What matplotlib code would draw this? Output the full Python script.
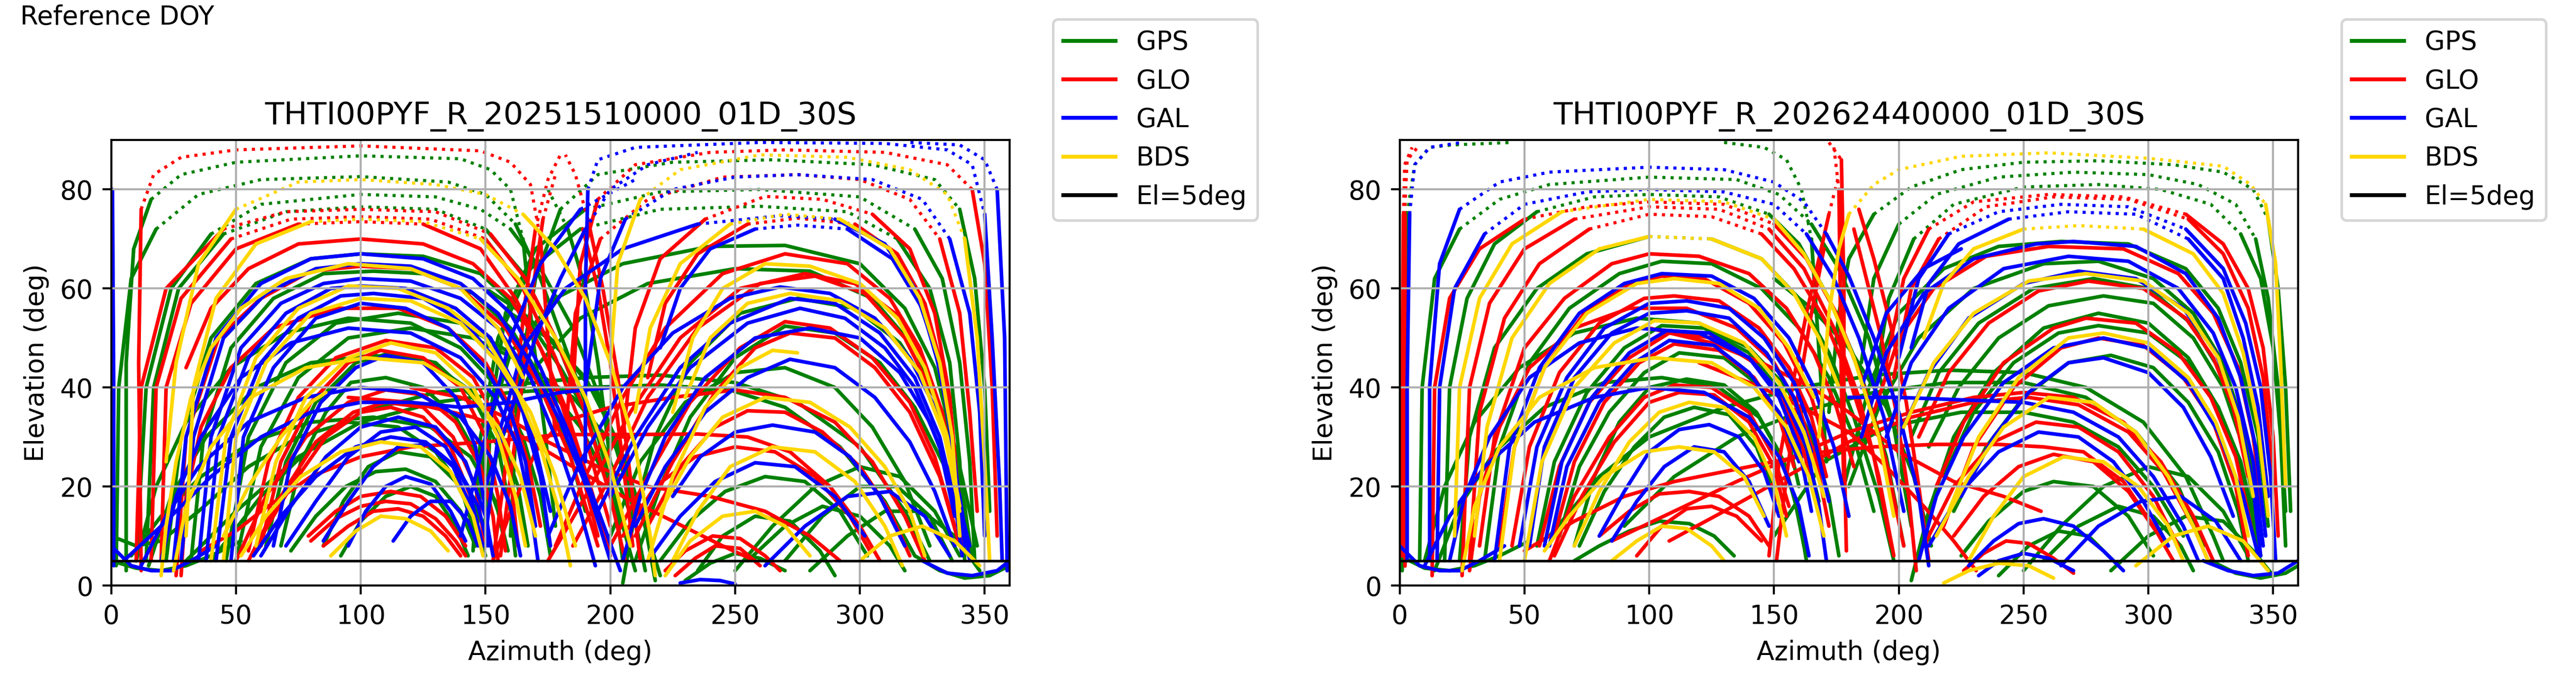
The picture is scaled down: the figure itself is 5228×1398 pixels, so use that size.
import numpy as np
import matplotlib.pyplot as plt
from matplotlib.lines import Line2D

systems = ["GPS", "GLO", "GAL", "BDS"]
sys_colors = {"GPS": "green", "GLO": "red", "GAL": "blue", "BDS": "gold"}
titles = ["THTI00PYF_R_20251510000_01D_30S", "THTI00PYF_R_20262440000_01D_30S"]
az_ticks = [0, 50, 100, 150, 200, 250, 300, 350]
el_ticks = [0, 20, 40, 60, 80]
el_mask = 5

p1_gps = [
    [(6,3),(6,45),(9,68),(16,78),(28,83),(50,85.5),(100,86.8),(140,86.2),(152,84),(160,80),(165,70),(169,50),(174,30),(178,12)],
    [(2,4),(3,40),(8,62),(18,72),(35,79),(60,82),(100,82.6),(135,81.5),(150,79),(162,73),(172,62),(182,48),(195,30),(205,12),(210,3)],
    [(10,5),(14,40),(24,60),(40,71),(60,77),(100,79),(130,78.5),(148,76),(160,72),(172,64),(185,52),(198,35),(208,18),(214,3)],
    [(14,5),(17,40),(27,60),(45,71),(70,75.5),(100,76.5),(130,76),(150,72),(165,63),(178,50),(192,32),(204,12)],
    [(22,5),(28,30),(40,50),(58,61),(80,66),(100,67),(125,66.5),(148,63),(165,55),(180,44),(196,30),(210,12)],
    [(32,5),(37,30),(48,48),(65,58),(85,63),(105,63.5),(125,63),(145,59),(160,52),(172,42),(182,30),(190,15)],
    [(46,5),(55,30),(70,45),(90,53),(115,55),(140,53),(160,47),(175,40),(188,32),(200,20),(208,8)],
    [(50,5),(60,28),(75,42),(95,50),(120,52),(145,50),(165,45),(185,38),(202,28),(215,12)],
    [(62,8),(70,25),(82,37),(98,45),(112,47),(130,45),(145,38),(155,28),(160,15),(162,6)],
    [(68,8),(76,25),(86,35),(96,41),(110,42),(125,40),(138,34),(148,25),(155,15),(158,8)],
    [(85,8),(93,17),(103,24),(115,27),(128,26),(138,21),(146,13),(150,6)],
    [(92,6),(100,13),(110,18),(120,20),(130,18),(138,12),(143,6)],
    [(40,5),(60,18),(80,28),(100,35),(130,39),(160,40.5),(190,42),(220,42.5),(250,41),(275,37),(300,28),(318,15),(328,5)],
    [(30,5),(50,15),(75,26),(100,33),(130,37),(160,39),(190,40),(220,40.5),(248,39.5),(270,36),(292,28),(310,17),(322,6)],
    [(0,5),(10,3.5),(20,3),(30,4),(40,6),(52,9)],
    [(0,10),(10,8),(20,9),(35,15),(55,24),(75,30),(95,33),(115,32),(130,27),(140,20),(146,10)],
    [(10,5),(18,20),(30,33),(48,44),(70,51),(95,54),(120,53),(140,48),(155,40),(165,30),(172,18),(176,6)],
    [(15,4),(24,18),(38,30),(58,40),(80,45),(105,46.5),(128,45),(145,39),(156,30),(163,20),(167,8)],
    [(8,6),(20,14),(36,22),(56,29),(80,33),(105,34),(128,32),(144,26),(154,17),(159,7)],
    [(72,7),(82,14),(94,20),(106,23),(118,23.5),(130,21),(140,15),(146,8)],
    [(160,10),(163,40),(170,62),(180,76),(195,83),(225,85.5),(265,86),(305,85),(330,82),(340,76),(346,62),(350,40),(352,15)],
    [(150,8),(152,35),(158,55),(170,68),(190,76),(220,79.5),(260,80),(300,78.5),(322,72),(333,62),(340,45),(344,25),(346,5)],
    [(145,7),(148,30),(155,50),(168,64),(188,72),(220,76),(260,76.6),(295,75.5),(315,70),(328,60),(336,45),(340,25),(342,5)],
    [(146,8),(150,30),(160,47),(178,58),(205,65),(240,68.5),(270,68.7),(300,65),(318,56),(330,44),(338,28),(343,12)],
    [(148,8),(155,28),(168,43),(188,54),(215,61),(250,64),(280,63.5),(305,58),(322,48),(334,34),(342,16),(345,5)],
    [(205,5),(200,25),(195,45),(190,60),(183,72),(175,80)],
    [(210,5),(220,20),(232,34),(250,46),(270,52.4),(290,51),(308,45),(322,36),(334,24),(342,10)],
    [(205,0.5),(210,15),(218,30),(232,45),(252,55),(275,58),(298,56),(316,49),(330,38),(340,24),(347,8)],
    [(200,10),(212,25),(230,37),(250,43),(270,44),(290,40),(305,32),(318,21),(328,8)],
    [(150,60),(165,55),(180,48),(195,38),(206,25),(214,12),(218,1)],
    [(160,55),(175,50),(190,42),(202,30),(212,15),(220,2)],
    [(220,5),(232,13),(246,19),(262,22),(278,21),(292,15),(303,6)],
    [(235,3),(245,10),(258,14),(272,13),(284,7),(290,2)],
    [(250,3),(265,12),(282,20),(300,24),(316,22),(330,15),(340,6)],
    [(255,5),(270,12),(285,16),(300,14),(312,8),(318,3)],
    [(270,5),(285,14),(300,20),(315,20),(328,14),(337,5)],
    [(280,3),(295,10),(310,15),(325,15),(338,10),(348,3)],
    [(230,1),(240,4.5),(250,6.5),(260,5.5),(270,3)],
    [(322,6),(332,3),(342,1.5),(352,2),(360,4)],
]

p1_glo = [
    [(12,3),(11,45),(12,76),(17,83),(28,86.5),(50,88),(100,88.8),(148,87.8),(160,85.5),(168,81),(172,70),(175,50),(178,30)],
    [(10,5),(12,40),(22,60),(45,72),(70,75.5),(100,76),(130,75.5),(152,71),(166,62),(178,50),(190,35),(200,18),(206,5)],
    [(16,5),(18,40),(28,58),(48,70),(72,74),(100,74.5),(128,74),(150,70),(165,60),(178,46),(190,30),(200,12)],
    [(20,5),(22,40),(32,57),(50,68),(75,73),(100,73.5),(125,73),(148,68),(162,58),(175,45),(186,28),(195,10)],
    [(30,44),(40,56),(55,64),(75,69),(100,70),(125,69),(145,65),(160,58),(172,48),(182,36),(192,20),(200,6)],
    [(26,2),(30,30),(43,50),(60,58),(80,63.5),(100,64.5),(120,64),(140,60),(158,52),(172,40),(184,26),(195,8)],
    [(28,2),(30,18),(36,32),(48,44),(65,52),(90,56),(115,56),(135,52),(150,45),(160,36),(167,25),(172,12)],
    [(55,7),(63,25),(75,38),(90,46),(110,49.5),(130,48),(145,42),(155,33),(160,22),(163,8)],
    [(60,8),(68,25),(80,37),(95,45),(108,47.5),(125,46),(140,40),(150,30),(155,18),(158,7)],
    [(50,5),(62,18),(78,30),(95,37),(110,39.5),(125,38.5),(138,33),(148,24),(153,14),(155,5)],
    [(55,5),(68,18),(82,29),(97,35),(110,37),(125,36),(137,30),(146,20),(150,8)],
    [(58,8),(72,20),(86,30),(100,35),(112,36),(125,34),(136,28),(144,18),(148,8)],
    [(79,10),(90,15),(100,18),(112,19),(124,18),(134,14),(142,8)],
    [(80,9),(90,13.5),(100,16),(110,17),(120,16.5),(130,13.5),(138,9),(142,6)],
    [(85,8),(95,12),(105,15),(115,15.5),(125,14),(134,10),(140,6)],
    [(153,5),(160,15),(170,27),(180,33),(200,36),(225,38),(250,39.5),(270,38),(290,33),(305,25),(318,14),(326,5)],
    [(36,7),(50,11),(60,15),(80,22),(100,26),(120,28),(150,29),(180,30.5),(210,30.5),(235,30.6),(255,30),(272,27),(288,20),(300,12),(308,5)],
    [(95,38),(120,37),(145,34),(165,30),(185,24),(205,18),(225,13),(245,8),(258,5)],
    [(120,40),(140,38),(158,34),(175,29),(195,24),(215,20),(240,18),(262,15),(280,10),(292,5)],
    [(153,5),(157,20),(162,40),(166,58),(170,72),(175,82),(180,87)],
    [(156,6),(160,22),(165,42),(169,60),(173,74),(178,83)],
    [(212,5),(208,22),(203,42),(197,60),(191,74),(186,83),(182,87)],
    [(209,8),(205,25),(200,45),(195,60),(189,72)],
    [(185,40),(188,65),(195,78),(210,85),(240,87.5),(270,88),(310,87.5),(335,85),(345,80),(350,65),(353,40),(355,10)],
    [(182,30),(186,55),(196,70),(215,78),(245,82.5),(275,83),(300,82),(320,78),(332,70),(340,55),(344,35),(347,15)],
    [(205,30),(210,52),(220,66),(238,74),(262,78.6),(285,78),(305,75),(320,68),(330,55),(336,38),(340,15)],
    [(215,42),(222,57),(235,67),(255,73),(275,74.2),(298,73),(315,67),(326,57),(334,42),(338,25),(341,8)],
    [(178,8),(190,22),(205,38),(222,52),(245,63),(270,67),(295,65),(312,58),(324,48),(333,35),(338,22),(342,8)],
    [(175,5),(190,18),(208,35),(228,50),(252,60),(278,63),(298,61),(314,55),(326,45),(334,32),(340,18)],
    [(185,8),(200,22),(215,38),(235,52),(260,61),(282,62.5),(302,59),(318,50),(330,38),(337,24),(342,10)],
    [(200,8),(215,22),(232,37),(252,48),(270,53.3),(288,52),(305,46),(320,37),(330,26),(338,12)],
    [(210,10),(225,25),(242,39),(258,48),(272,51),(290,50),(306,44),(320,35),(332,22),(340,8)],
    [(215,12),(228,24),(242,32),(255,35.3),(270,35),(285,31),(300,24),(312,15),(320,6)],
    [(205,10),(218,20),(234,26),(250,28),(266,27),(282,22),(296,14),(304,7)],
    [(222,3),(230,7),(241,10),(252,9.5),(262,6),(268,3)],
    [(226,2),(234,5.5),(242,8),(252,7.5),(260,4)],
]

p1_gal = [
    [(1,4),(1,40),(0.5,80)],
    [(359,3),(358,50),(355,80),(350,86),(340,89),(320,89.5)],
    [(25,5),(30,30),(42,50),(60,61),(80,66),(100,67),(125,66),(145,62),(160,55),(172,44),(184,30),(196,14),(204,3)],
    [(28,5),(33,30),(45,50),(62,59),(82,64),(100,65),(120,64.5),(140,61),(155,55),(168,45),(180,33),(192,18),(200,5)],
    [(35,5),(40,30),(52,48),(68,57),(85,61),(100,62),(120,61.5),(140,58),(155,52),(168,42),(178,30),(188,15),(194,4)],
    [(38,5),(43,30),(55,46),(70,55),(88,60),(100,60.5),(118,60),(138,56),(152,50),(162,40),(170,28),(176,15)],
    [(42,5),(48,30),(60,45),(75,54),(92,58.5),(105,59),(125,58),(142,53),(155,45),(165,35),(172,22),(176,8)],
    [(48,5),(53,30),(65,44),(82,54),(100,57),(118,56),(135,52),(150,44),(160,35),(166,25),(170,12)],
    [(20,5),(26,18),(36,30),(52,42),(72,49),(95,52),(120,51),(140,46),(154,38),(163,28),(168,16),(171,5)],
    [(65,8),(72,25),(84,37),(98,44),(110,46.5),(125,45),(138,38),(146,28),(150,15),(152,8)],
    [(12,4),(22,14),(35,24),(55,33),(78,38),(100,40),(122,39),(140,34),(152,26),(160,16),(164,6)],
    [(60,6),(72,16),(86,26),(100,32),(115,34),(130,32),(142,25),(150,14),(153,6)],
    [(70,8),(82,17),(95,26),(108,31),(122,32),(134,28),(143,20),(148,10)],
    [(57,6),(68,14),(82,22),(98,28),(112,30),(126,29),(138,24),(147,16),(151,8)],
    [(85,9),(95,17),(105,24),(115,28),(127,28.5),(137,24),(145,15),(149,8)],
    [(95,8),(102,15),(110,20),(118,22),(128,20.5),(136,15),(142,9)],
    [(113,9),(120,14),(128,17),(136,17),(143,13),(147,8)],
    [(0,8),(8,4),(16,3),(24,3),(32,5),(42,8)],
    [(5,5),(20,12),(40,22),(60,30),(80,35),(100,37),(120,37),(140,36),(160,37),(180,39),(200,40)],
    [(190,25),(190,60),(191,80),(195,86),(210,88.5),(260,89.5),(310,89.3),(335,88),(345,85),(350,75),(353,50),(356,20),(357,5)],
    [(190,40),(196,62),(206,74),(225,80),(250,82.5),(275,83),(305,82),(325,78),(336,70),(344,55),(348,35),(350,10)],
    [(150,10),(155,30),(165,48),(182,60),(205,68),(235,73),(268,74.7),(290,74),(310,69),(322,60),(330,48),(336,33),(340,15)],
    [(220,48),(228,60),(240,68),(258,72),(275,72.8),(295,72),(313,66),(325,56),(333,42),(338,25),(342,8)],
    [(175,10),(188,25),(205,40),(225,51),(248,58),(268,60.3),(288,59),(306,54),(320,46),(332,34),(340,18),(344,5)],
    [(195,15),(210,30),(228,44),(248,53),(272,58),(290,57),(308,51),(322,42),(332,30),(338,17),(341,6)],
    [(200,18),(215,32),(232,44),(255,53),(276,56),(294,54),(310,48),(322,40),(332,28),(338,14)],
    [(205,5),(212,18),(222,30),(238,42),(258,50),(280,52),(300,50),(316,43),(328,33),(338,20),(344,8)],
    [(210,12),(222,24),(238,35),(255,42),(272,45.7),(290,44),(306,38),(320,29),(330,19),(338,8)],
    [(225,18),(236,26),(250,31),(265,32.4),(282,31),(296,26),(308,18),(318,8)],
    [(215,5),(228,14),(242,21),(258,24.8),(274,24),(290,18),(302,10)],
    [(262,4),(278,12),(295,18),(312,19),(326,14),(336,6)],
    [(228,0.5),(236,1.2),(244,1),(250,0.3)],
    [(325,5),(335,2.5),(345,2),(355,3),(360,5)],
    [(150,20),(160,35),(170,50),(180,62),(190,72),(200,80),(215,85),(235,87.5)],
    [(140,10),(150,30),(160,50),(172,65),(188,76),(210,82)],
]

p1_bds = [
    [(22,25),(26,45),(35,65),(50,76),(75,81.5),(100,82),(130,81),(150,79),(165,75),(178,68),(190,58),(200,45),(210,28),(216,10),(218,2)],
    [(30,10),(33,40),(42,58),(58,69),(80,73.5),(100,74),(125,73.5),(148,70),(163,62),(178,50),(190,38),(200,24),(208,8)],
    [(40,5),(46,30),(58,46),(75,56),(95,60.5),(115,60),(135,56),(150,50),(162,40),(172,28),(180,14),(184,4)],
    [(45,5),(50,30),(62,45),(80,55),(100,58),(120,57.5),(140,53),(155,45),(168,35),(178,22),(186,8)],
    [(58,8),(66,25),(78,38),(95,46),(112,49),(130,47),(145,40),(155,30),(162,18),(166,8)],
    [(25,3),(30,16),(40,28),(56,38),(78,44),(102,46),(125,45),(142,40),(155,32),(164,22),(170,10)],
    [(45,10),(55,20),(68,30),(80,37),(86,39)],
    [(52,6),(62,14),(76,22),(92,27),(108,29),(124,28),(136,23),(145,14),(149,6)],
    [(88,6),(98,11),(108,14),(118,13.5),(128,11),(135,7)],
    [(20,2),(22,12),(26,25),(32,38),(40,48),(52,56),(70,62),(95,65),(120,64),(140,60),(155,52),(165,42)],
    [(200,45),(203,65),(212,78),(228,84),(260,87),(295,86.5),(320,84),(335,79),(342,70),(347,50),(350,25),(352,5)],
    [(210,35),(216,52),(228,65),(248,73),(270,75),(292,74),(312,68),(324,58),(332,45),(337,30),(340,10)],
    [(225,35),(233,50),(245,60),(262,65),(280,64.5),(300,61),(315,54),(326,44),(335,30),(340,16)],
    [(230,38),(240,50),(255,57),(272,59),(292,57.5),(310,52),(324,43),(334,30),(340,15)],
    [(215,5),(225,22),(238,36),(252,44),(265,47.5),(275,47)],
    [(220,15),(232,26),(245,34),(262,38),(280,37),(296,32),(310,24),(320,15),(326,6)],
    [(225,5),(235,15),(248,24),(265,28),(282,27),(298,21),(310,12),(317,4)],
    [(300,5),(312,10),(325,12),(338,9),(348,4)],
    [(222,2),(232,9),(245,14),(258,15),(270,12),(280,6)],
]

# ---- file 2 (2026 DOY 244) ----
p2_gps = [
    [(1,3),(1.5,40),(3,75),(6,85),(12,88.5),(21,89),(45,89.5)],
    [(130,89.5),(146,88.5),(155,86),(161,80),(165,70),(167,55),(169,40),(171,25)],
    [(8,5),(9,40),(14,62),(24,72),(40,78),(60,81),(100,82.5),(135,82),(152,79),(165,73),(176,64),(188,50),(198,32),(205,12)],
    [(18,5),(20,40),(27,58),(38,69),(55,75.5),(78,78.5),(100,79),(128,78.5),(148,75),(160,69),(172,58),(184,44),(195,26),(202,8)],
    [(24,5),(28,30),(38,48),(55,60),(75,67),(100,70.5),(125,70),(145,66),(160,58),(172,47),(182,34),(192,18),(198,5)],
    [(34,5),(40,28),(52,45),(68,56),(88,63),(105,65.5),(125,65),(145,60),(160,52),(172,42),(182,30),(190,15)],
    [(10,5),(18,20),(30,33),(48,44),(70,51),(95,54),(120,53),(140,48),(155,40),(165,30),(172,18),(176,6)],
    [(55,8),(62,25),(75,39),(90,48),(105,52.5),(122,52),(140,47),(153,39),(162,29),(168,17)],
    [(64,10),(72,24),(84,35),(98,43),(112,47),(130,46),(145,40),(155,31),(160,20)],
    [(14,3),(24,16),(38,27),(58,36),(82,41),(105,42),(128,40),(144,34),(154,25),(160,14),(163,5)],
    [(70,8),(78,22),(88,33),(100,40),(115,41.7),(130,40.5),(143,35),(152,27),(158,18),(162,8)],
    [(72,8),(82,19),(94,28),(106,34),(118,36),(132,34.5),(143,28),(150,19)],
    [(70,5),(80,8),(92,11),(104,13),(116,12.5),(126,10),(134,6)],
    [(60,10),(80,22),(100,30),(130,36),(160,40),(190,42.5),(220,43.5),(250,43),(275,40),(298,33),(315,22),(326,10),(330,5)],
    [(90,12),(110,22),(135,30),(160,35),(190,39),(220,41),(250,41),(275,38),(295,31),(312,20),(322,8)],
    [(172,35),(176,55),(180,66),(190,75),(205,80.5),(225,84),(250,85.5),(280,85.8),(310,85),(330,83.5),(342,80),(348,74),(352,60),(355,40),(357,15)],
    [(185,45),(190,62),(200,73),(215,79),(240,82.5),(270,83.5),(300,83),(320,81),(335,77),(343,70),(348,58),(352,40),(355,15)],
    [(190,40),(196,58),(206,70),(222,77),(250,80.5),(280,81),(305,80),(325,77),(337,71),(345,62),(350,48),(353,30),(355,8)],
    [(178,20),(188,40),(200,55),(218,64),(240,68.5),(265,69.5),(292,69),(315,64),(328,56),(337,45),(344,30),(348,12)],
    [(180,20),(192,36),(208,50),(230,60),(258,65),(280,65.5),(302,62),(318,55),(330,45),(338,32),(344,16)],
    [(205,30),(216,43),(232,53),(254,60),(278,62),(300,60),(317,53),(328,44),(337,32),(343,16)],
    [(212,28),(224,40),(240,50),(260,56.5),(282,58.5),(302,57),(318,50),(330,40),(338,28),(344,12)],
    [(205,1),(212,15),(222,30),(238,43),(258,52),(280,55),(300,53),(316,46),(328,36),(338,22),(345,6)],
    [(218,22),(230,35),(246,45),(264,51),(280,52.5),(300,51),(316,45),(328,36),(337,25),(344,10)],
    [(222,15),(235,28),(250,38),(268,45),(285,46.5),(302,44),(316,37),(328,27),(336,15),(340,5)],
    [(150,62),(165,56),(180,48),(195,36),(206,22),(213,8)],
    [(150,10),(170,25),(195,32),(225,35),(250,35),(270,33),(288,28),(302,20),(314,10)],
    [(225,6),(236,13),(250,19),(262,21),(278,20),(292,14),(302,6)],
    [(250,3),(265,12),(282,20),(300,24),(316,22),(330,15),(340,6)],
    [(258,5),(272,12),(288,16),(302,14),(313,8),(318,3)],
    [(285,3),(300,10),(315,14),(330,13),(342,7),(350,2)],
    [(240,2),(252,8),(264,11),(276,10),(286,5)],
    [(0,6),(10,3.5),(20,3),(30,4),(40,6),(52,9)],
    [(325,5),(335,2.5),(345,1.5),(355,2.5),(360,4)],
]

p2_glo = [
    [(2,4),(2,40),(2,75),(3,86),(8,89)],
    [(1,6),(1,40),(1.5,75),(2,85),(5,88.5)],
    [(172,89.5),(177,86),(178,60),(178,30),(179,7)],
    [(174,88.5),(176,80),(176.5,60),(177,40),(178,20)],
    [(13,2),(14,40),(20,58),(32,68),(50,74),(75,76.5),(100,77.5),(130,77),(150,73),(163,66),(175,55),(185,42),(195,25),(202,8)],
    [(25,2),(28,40),(36,57),(50,68),(70,74),(100,76.5),(128,76),(148,72),(162,64),(174,52),(184,38),(192,22),(198,6)],
    [(28,5),(32,35),(42,54),(56,65),(76,72),(100,75),(125,74.5),(145,71),(158,64),(170,54),(180,42),(190,26),(197,8)],
    [(32,8),(38,30),(50,48),(66,58),(85,65),(100,67),(120,66.5),(140,63),(155,56),(166,47),(175,36),(182,24)],
    [(40,8),(46,28),(58,44),(74,55),(92,61),(105,62.5),(122,62),(140,57),(154,49),(165,38),(172,26)],
    [(45,8),(52,28),(64,43),(80,53),(98,58),(110,58.5),(128,57.5),(144,52),(156,44),(165,34),(171,22)],
    [(28,3),(32,18),(40,32),(52,44),(70,52),(92,56),(115,56),(135,52),(150,45),(160,36),(167,25),(172,12)],
    [(56,8),(64,24),(76,37),(92,46),(108,51),(126,50),(142,45),(154,37),(162,27),(168,15)],
    [(62,10),(70,25),(82,37),(96,45),(110,48.8),(128,47.5),(142,42),(152,34),(158,24)],
    [(60,5),(70,18),(84,30),(98,38),(110,40.5),(125,40),(140,35),(150,26),(156,16)],
    [(62,6),(73,18),(86,29),(100,37),(112,39),(126,38.5),(140,33),(150,24),(155,14)],
    [(80,10),(92,15),(104,18.5),(116,19),(128,18),(140,14),(148,8)],
    [(95,6),(105,12),(115,15.5),(125,16),(135,14),(145,9)],
    [(85,9),(110,15),(135,21),(160,26.5),(180,31),(205,35),(230,38),(250,39),(270,38),(290,33),(305,25),(318,14),(326,5)],
    [(108,9),(130,15),(155,22),(180,29),(205,34),(230,37),(252,38),(272,36.5),(292,31),(306,23),(318,12),(324,5)],
    [(50,7),(70,13),(90,18),(110,21),(130,23),(150,25),(170,27),(190,28),(215,28.5),(240,28.5),(258,28),(274,27),(290,21),(302,12),(310,5)],
    [(100,52),(125,49),(145,45),(165,40),(180,35),(200,27),(222,21),(242,18),(257,15)],
    [(120,45),(145,40),(165,35),(180,31),(195,24),(210,16),(222,9),(231,3)],
    [(148,6),(152,25),(158,42),(163,55),(168,66),(172,75),(176,83)],
    [(151,5),(155,22),(160,40),(165,55),(170,68)],
    [(207,3),(204,18),(199,35),(193,50),(187,62),(182,72)],
    [(212,5),(208,20),(203,37),(197,52),(190,66),(184,76)],
    [(195,45),(202,62),(212,72),(230,77.5),(260,79),(290,78.5),(315,75),(330,69),(340,60),(346,48),(350,30),(352,10)],
    [(198,42),(205,60),(216,70),(235,76.5),(262,78.5),(292,78),(316,74),(330,67),(340,56),(346,42),(350,22)],
    [(190,35),(200,50),(214,60),(235,66.5),(260,68.5),(290,68),(312,63),(326,55),(336,44),(342,30),(346,14)],
    [(208,30),(220,43),(236,53),(256,59.5),(276,61.5),(298,60),(315,54),(326,46),(334,36),(340,22)],
    [(215,20),(226,33),(242,45),(262,52),(275,54),(295,53),(312,47),(325,38),(335,26),(342,10)],
    [(218,12),(230,28),(246,40),(265,48),(280,50),(298,48.5),(314,42),(326,33),(335,20),(340,6)],
    [(210,8),(222,20),(238,29),(255,33),(272,32),(288,27),(302,18),(312,8)],
    [(222,10),(234,18),(248,24),(262,26.5),(278,25),(292,19),(303,11)],
    [(226,3),(234,6.5),(243,9),(252,8.5),(262,5.5),(270,2.5)],
]

p2_gal = [
    [(3,5),(3,40),(4,75),(6,85),(12,88.5),(25,89.5)],
    [(12,5),(12,40),(16,65),(24,76),(40,81.5),(60,83.5),(100,84.5),(130,84),(150,81.5),(162,77.5),(171,71),(180,62.5),(190,50),(200,35),(208,18),(212,4)],
    [(15,5),(16,40),(22,60),(34,71),(50,77),(75,79.5),(100,80),(130,79.5),(150,77),(163,71),(174,62),(184,50),(194,34),(202,15)],
    [(38,5),(44,28),(56,44),(72,55),(90,61),(105,63),(125,62.5),(142,58),(156,50),(166,40),(174,28),(180,14)],
    [(48,8),(55,28),(67,42),(82,52),(100,57),(115,57.5),(132,56),(146,50),(158,41),(166,30),(172,17)],
    [(52,8),(58,28),(70,42),(85,51),(100,55),(115,55.5),(132,54),(147,47),(158,38),(165,27)],
    [(20,5),(26,18),(36,30),(52,42),(72,49),(95,52),(120,51),(140,46),(154,38),(163,28),(168,16),(171,5)],
    [(58,8),(65,25),(77,38),(92,47),(107,51.5),(124,51),(140,46),(152,38),(160,28),(165,15)],
    [(60,8),(67,24),(80,37),(94,45),(108,49.5),(126,48.5),(140,43),(152,35),(160,25)],
    [(10,4),(20,14),(34,24),(54,33),(78,38),(100,40),(122,39),(140,34),(152,26),(160,16),(164,6)],
    [(80,10),(90,19),(100,27),(112,31.5),(124,32.5),(136,30),(146,23),(152,14)],
    [(85,9),(95,17),(106,24),(118,28),(130,27),(140,21),(148,12)],
    [(200,46),(208,62),(220,71),(240,75.5),(265,77),(292,76.5),(315,72),(330,64),(339,53),(345,40),(349,22),(351,5)],
    [(205,48),(212,61),(224,69),(244,74),(268,75.5),(295,75),(316,70),(330,62),(338,50),(344,36),(348,18)],
    [(185,40),(195,55),(210,64),(225,68)],
    [(185,30),(195,47),(210,59),(230,66),(255,69),(270,69.5),(295,68.5),(315,63),(328,54),(337,42),(343,28),(347,10)],
    [(195,30),(205,45),(220,56),(242,64),(268,66.5),(292,65.5),(312,60),(326,51),(335,40),(342,25),(346,8)],
    [(200,30),(212,43),(228,54),(250,61),(272,63.5),(295,62),(314,56),(327,47),(336,35),(342,20),(345,6)],
    [(208,5),(215,18),(226,30),(242,41),(262,48),(282,50),(300,48),(316,41),(328,31),(338,18),(344,6)],
    [(225,18),(238,30),(252,39),(268,45),(282,46),(300,43),(314,36),(325,26),(334,14)],
    [(180,38),(200,38),(225,37.5),(250,37),(270,35),(288,30),(302,22),(314,12),(320,5)],
    [(212,8),(225,19),(240,27),(256,31),(272,30),(286,25),(298,17),(308,8)],
    [(228,4),(238,9),(248,12.5),(258,13.5),(270,12),(282,7),(290,3)],
    [(265,4),(280,12),(297,17),(313,18),(327,13),(337,5)],
    [(232,2),(240,5),(250,6.5),(260,5.5),(270,3)],
    [(0,8),(8,4),(16,3),(24,3),(32,5),(42,8)],
    [(322,5),(332,3),(342,2),(352,2.5),(360,5)],
]

p2_bds = [
    [(22,10),(24,40),(32,58),(45,69),(65,75.5),(100,78),(130,77.5),(150,74),(162,67),(172,58),(182,46),(192,30),(198,14)],
    [(30,10),(35,32),(45,50),(60,61),(80,68),(100,70.5),(125,70),(145,66),(158,59),(168,50),(176,40)],
    [(40,5),(46,28),(58,44),(75,55),(95,61),(110,62),(128,61),(144,56),(156,48),(166,38)],
    [(50,5),(57,25),(70,40),(86,49),(102,53.5),(120,53),(138,49),(152,41),(162,31),(170,18)],
    [(25,3),(30,16),(40,28),(56,38),(78,44),(102,46),(125,45),(142,40),(155,32),(164,22),(170,10)],
    [(70,8),(80,19),(92,29),(104,35),(116,37),(130,36),(142,30),(150,21),(155,10)],
    [(58,7),(68,14),(82,22),(98,27),(112,28),(126,27),(138,22),(146,14)],
    [(85,5),(95,9),(105,12),(115,11.5),(125,8),(130,5)],
    [(168,30),(172,55),(176,68),(180,75),(190,81),(200,84),(225,86.7),(260,87.4),(300,86.3),(330,84.7),(341,81),(347,77),(351,65),(353,45),(355,20)],
    [(210,50),(218,61),(230,68),(250,72),(272,72.7),(298,72),(318,67),(330,59),(338,47),(344,32),(348,14)],
    [(202,32),(214,45),(230,55),(252,61.5),(275,63),(298,61.5),(316,55),(328,46),(336,34),(342,18)],
    [(220,15),(232,30),(248,42),(268,50),(282,51),(300,49),(316,42),(327,33),(335,22),(340,10)],
    [(215,10),(228,22),(242,32),(260,38),(278,37),(295,31),(308,22),(318,12),(324,5)],
    [(228,5),(238,14),(250,22),(266,26),(282,25),(296,20),(308,12),(314,5)],
    [(295,4),(310,10),(324,12),(338,9),(348,3)],
    [(218,0.5),(228,3),(240,4.5),(252,4),(262,1.5)],
]

panels = [
    {"GPS": p1_gps, "GLO": p1_glo, "GAL": p1_gal, "BDS": p1_bds},
    {"GPS": p2_gps, "GLO": p2_glo, "GAL": p2_gal, "BDS": p2_bds},
]

high_el = 70  # above this the 30 s samples are spread apart -> dotted look


def draw_track(ax, pts, color):
    a = np.array(pts, dtype=float)
    # a segment is "high" when both ends are above high_el
    seg_high = np.minimum(a[:-1, 1], a[1:, 1]) >= high_el
    start = 0
    for j in range(1, len(seg_high) + 1):
        if j == len(seg_high) or seg_high[j] != seg_high[start]:
            part = a[start:j + 1]
            if seg_high[start]:
                ax.plot(part[:, 0], part[:, 1], color=color, lw=1.2, ls=":", zorder=1)
            else:
                ax.plot(part[:, 0], part[:, 1], color=color, lw=1.4, zorder=1,
                        solid_joinstyle="round", solid_capstyle="round")
            start = j


fig = plt.figure(figsize=(5228/380, 1398/380), dpi=380)
lefts = [0.04317, 0.54335]

for i in range(2):
    ax = fig.add_axes([lefts[i], 0.15021, 0.34877, 0.64664])
    for s in systems:
        for tr in panels[i][s]:
            draw_track(ax, tr, sys_colors[s])
    ax.plot([0, 360], [el_mask, el_mask], color="black", lw=1.0)
    ax.set_xlim(0, 360)
    ax.set_ylim(0, 90)
    ax.set_xticks(az_ticks)
    ax.set_yticks(el_ticks)
    ax.grid(True)
    ax.set_title(titles[i], fontsize=12)
    ax.set_xlabel("Azimuth (deg)")
    ax.set_ylabel("Elevation (deg)")
    handles = [Line2D([0], [0], color=sys_colors[s]) for s in systems]
    handles.append(Line2D([0], [0], color="black"))
    ax.legend(handles, systems + ["El=5deg"], loc="upper left",
              bbox_to_anchor=(1.0484, 1.271), borderaxespad=0)

fig.text(0.0078, 0.9645, "Reference DOY", fontsize=10)
fig.savefig("out.png", dpi=380)
